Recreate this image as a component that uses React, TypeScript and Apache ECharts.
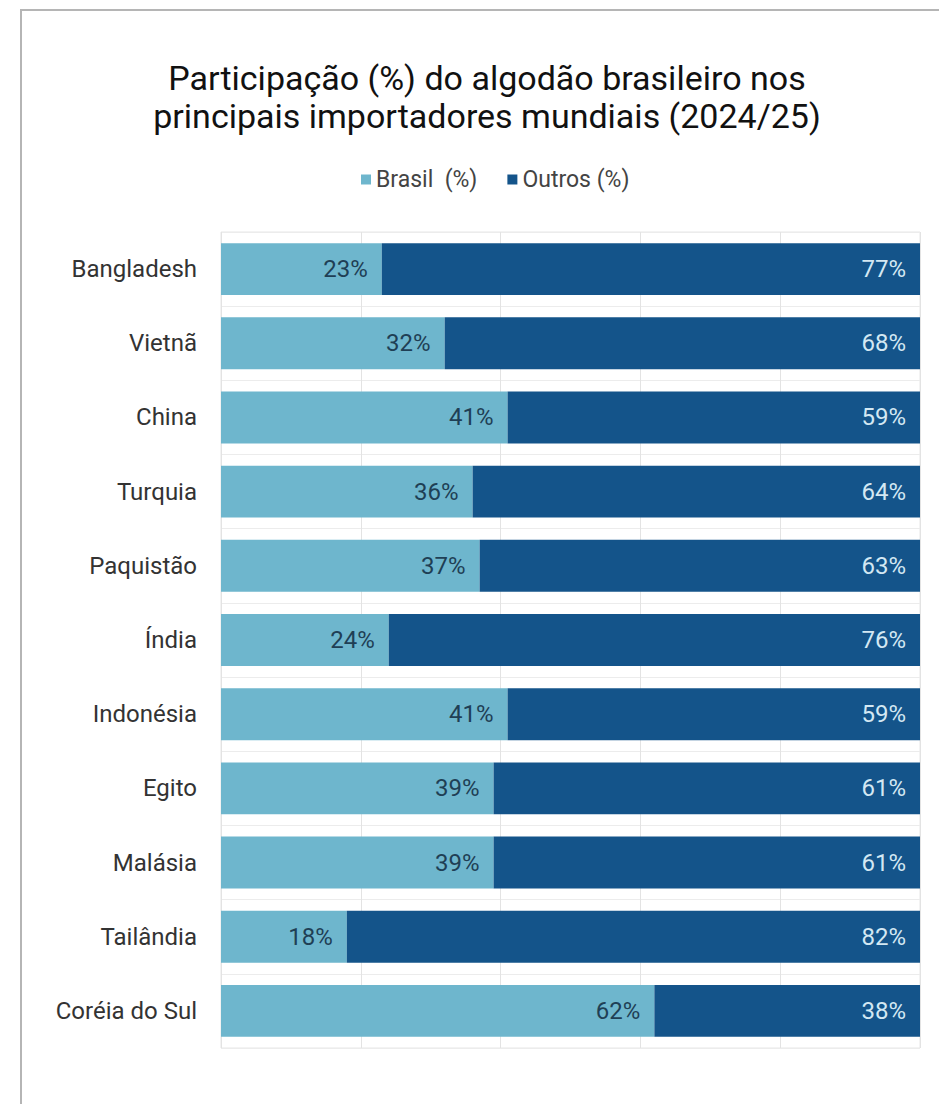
import React, { useEffect, useRef } from "react";
import * as echarts from "echarts";

const categories = ["Bangladesh", "Vietnã", "China", "Turquia", "Paquistão", "Índia", "Indonésia", "Egito", "Malásia", "Tailândia", "Coréia do Sul"];
const brasil = [23, 32, 41, 36, 37, 24, 41, 39, 39, 18, 62];
const outros = [77, 68, 59, 64, 63, 76, 59, 61, 61, 82, 38];
const titleText = "Participação (%) do algodão brasileiro nos\nprincipais importadores mundiais (2024/25)";
const seriesNames = ["Brasil  (%)", "Outros (%)"];

const FONT = "Roboto";

export default function App() {
  const ref = useRef<HTMLDivElement>(null);
  useEffect(() => {
    document.body.style.margin = "0";
    const chart = echarts.init(ref.current!, null, { renderer: "svg" });
    chart.setOption({
      animation: false,
      backgroundColor: "#ffffff",
      title: {
        text: titleText,
        left: 482,
        top: 54,
        textAlign: "center",
        textStyle: { fontFamily: FONT, fontSize: 34, fontWeight: "normal", color: "#111", lineHeight: 38 },
      },
      legend: {
        left: 356,
        top: 163,
        itemWidth: 10,
        itemHeight: 10,
        itemGap: 30,
        icon: "rect",
        textStyle: { fontFamily: FONT, fontSize: 23, color: "#444" },
        data: seriesNames,
      },
      graphic: [
        {
          type: "rect",
          shape: { x: 21, y: 10, width: 1000, height: 1200 },
          style: { fill: "none", stroke: "#b5b5b5", lineWidth: 2 },
          silent: true,
        },
      ],
      grid: { left: 221, right: 19, top: 232, bottom: 56, containLabel: false, show: true, borderColor: "#e6e6e6", borderWidth: 1 },
      xAxis: {
        type: "value",
        min: 0,
        max: 100,
        interval: 20,
        axisLabel: { show: false },
        axisLine: { show: false },
        axisTick: { show: false },
        splitLine: { show: true, lineStyle: { color: "#e3e3e3", width: 1 } },
      },
      yAxis: {
        type: "category",
        inverse: true,
        data: categories,
        axisLine: { show: false },
        axisTick: { show: false },
        axisLabel: { fontFamily: FONT, fontSize: 24, color: "#333", margin: 24 },
        splitLine: { show: true, lineStyle: { color: "#ececec" } },
      },
      series: [
        {
          name: seriesNames[0],
          type: "bar",
          stack: "total",
          barWidth: "70%",
          data: brasil,
          itemStyle: { color: "#6eb6cd" },
          label: {
            show: true,
            position: "insideRight",
            distance: 14,
            formatter: "{c}%",
            fontFamily: FONT,
            fontSize: 24,
            color: "#1f3f55",
          },
        },
        {
          name: seriesNames[1],
          type: "bar",
          stack: "total",
          barWidth: "70%",
          data: outros,
          itemStyle: { color: "#14548a" },
          label: {
            show: true,
            position: "insideRight",
            distance: 14,
            formatter: "{c}%",
            fontFamily: FONT,
            fontSize: 24,
            color: "#d3e8f3",
          },
        },
      ],
    });
    return () => chart.dispose();
  }, []);
  return <div ref={ref} style={{ width: 939, height: 1104 }} />;
}
